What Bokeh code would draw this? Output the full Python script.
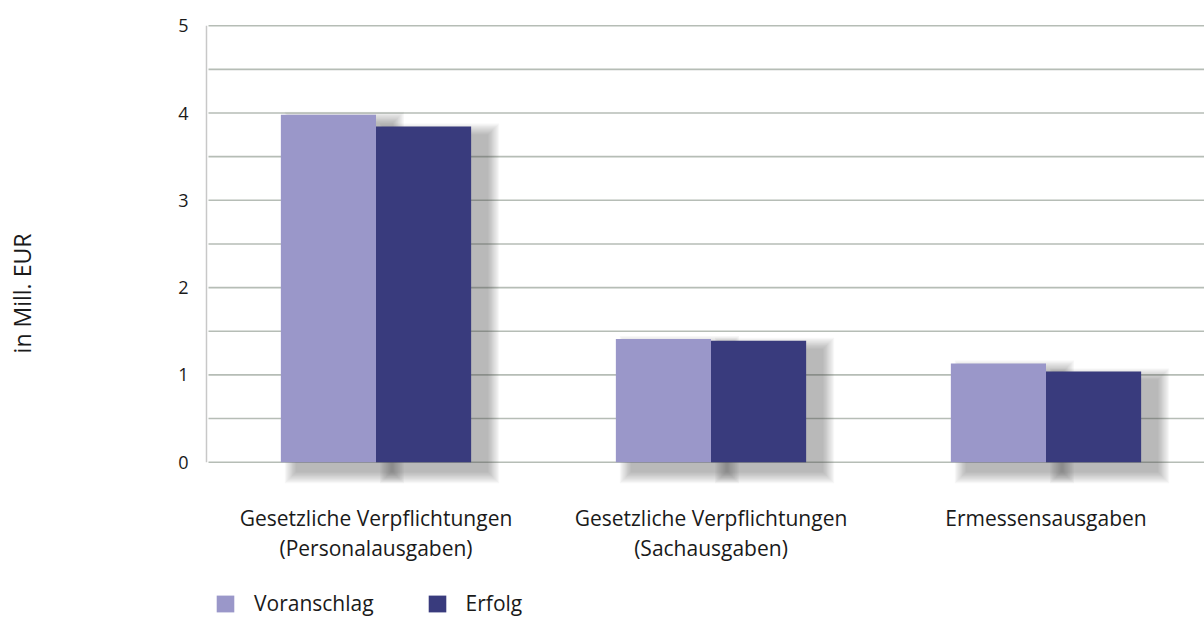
import math
from bokeh.plotting import figure
from bokeh.models import ColumnDataSource, FixedTicker, Legend, LegendItem, Label
from bokeh.embed import file_html
from bokeh.resources import INLINE

categories = ["Gesetzliche Verpflichtungen\n(Personalausgaben)",
              "Gesetzliche Verpflichtungen\n(Sachausgaben)",
              "Ermessensausgaben"]
voranschlag = [3.98, 1.41, 1.13]
erfolg = [3.845, 1.39, 1.04]
y_ticks = [0, 1, 2, 3, 4, 5]
y_title = "in Mill. EUR"

FONT = "Open Sans"
C_V = "#9a97c9"
C_E = "#393b7d"
GRID = "#b6bdb6"
TXT = "#1a1a1a"

W, H = 1204, 620
PX_X = 335.0          # pixels per category
PX_Y = 87.3           # pixels per million EUR
ORIGIN_X, ORIGIN_Y = 208.0, 461.7   # screen position of the data origin

centers = [i + 0.5 for i in range(len(categories))]
bw = 0.284
px_x = 1 / PX_X
px_y = 1 / PX_Y
x_start, x_end = -ORIGIN_X / PX_X, (W - ORIGIN_X) / PX_X
y_start, y_end = -(H - ORIGIN_Y) / PX_Y, ORIGIN_Y / PX_Y

p = figure(width=W, height=H, output_backend="svg", toolbar_location=None,
           x_range=(x_start, x_end), y_range=(y_start, y_end), min_border=0)
p.outline_line_color = None
p.background_fill_color = "white"
p.border_fill_color = "white"
p.grid.visible = False

# horizontal grid lines (every half unit), starting at the value axis
grid_vals = [t / 2 for t in range(0, 2 * max(y_ticks) + 1)]
p.segment(x0=[0] * len(grid_vals), x1=[x_end] * len(grid_vals), y0=grid_vals, y1=grid_vals,
          line_color=GRID, line_width=1.6)
# value axis line
p.segment(x0=[-0.006], y0=[0], x1=[-0.006], y1=[max(y_ticks)], line_color="#c8c8c8", line_width=1.5)

# shadows (blurred via layered translucent quads)
dx, dy = 16 * px_x, 9 * px_y
n_layers = 10
for k in range(n_layers):
    e = (n_layers - k) * 1.2
    for vals, off in ((voranschlag, -bw / 2), (erfolg, bw / 2)):
        xs = [c + off for c in centers]
        p.quad(left=[x - bw / 2 + dx - e * px_x for x in xs],
               right=[x + bw / 2 + dx + e * px_x for x in xs],
               top=[v - dy + e * px_y for v in vals],
               bottom=[-dy - e * px_y] * len(vals),
               fill_color="#3c3c3c", fill_alpha=0.045, line_color=None)

src = ColumnDataSource(dict(xv=[c - bw / 2 for c in centers],
                            xe=[c + bw / 2 for c in centers],
                            v=voranschlag, e=erfolg))
rv = p.vbar(x="xv", top="v", bottom=0, width=bw, source=src,
            fill_color=C_V, line_color=None)
re_ = p.vbar(x="xe", top="e", bottom=0, width=bw, source=src,
             fill_color=C_E, line_color=None)

# y axis (drawn at x = 0)
p.yaxis.fixed_location = 0
p.yaxis.ticker = FixedTicker(ticks=y_ticks)
p.yaxis.axis_line_color = None
p.yaxis.major_tick_line_color = None
p.yaxis.minor_tick_line_color = None
p.yaxis.major_label_standoff = 14
p.yaxis.major_label_text_font = FONT
p.yaxis.major_label_text_font_size = "18px"
p.yaxis.major_label_text_color = TXT

# x axis (drawn at y = 0)
p.xaxis.fixed_location = 0
p.xaxis.ticker = FixedTicker(ticks=centers)
p.xaxis.major_label_overrides = {c: lab for c, lab in zip(centers, categories)}
p.xaxis.axis_line_color = None
p.xaxis.major_tick_line_color = None
p.xaxis.minor_tick_line_color = None
p.xaxis.major_label_standoff = 36
p.xaxis.major_label_text_font = FONT
p.xaxis.major_label_text_font_size = "21px"
p.xaxis.major_label_text_color = TXT
p.xaxis.major_label_text_line_height = 1.05

ylab = Label(x=21, y=H - 293, x_units="screen", y_units="screen", text=y_title,
             angle=math.pi / 2, text_align="center", text_baseline="middle",
             text_font=FONT, text_font_size="23px", text_color=TXT)
p.add_layout(ylab)

legend = Legend(items=[LegendItem(label="Voranschlag", renderers=[rv]),
                       LegendItem(label="Erfolg", renderers=[re_])],
                orientation="horizontal", location=(214, 3),
                glyph_width=22, glyph_height=21, spacing=52,
                label_text_font=FONT, label_text_font_size="21px",
                label_text_color=TXT, label_standoff=18,
                border_line_color=None, background_fill_alpha=0,
                margin=0, padding=0)
p.add_layout(legend)

open("out.html", "w").write(file_html(p, INLINE))
